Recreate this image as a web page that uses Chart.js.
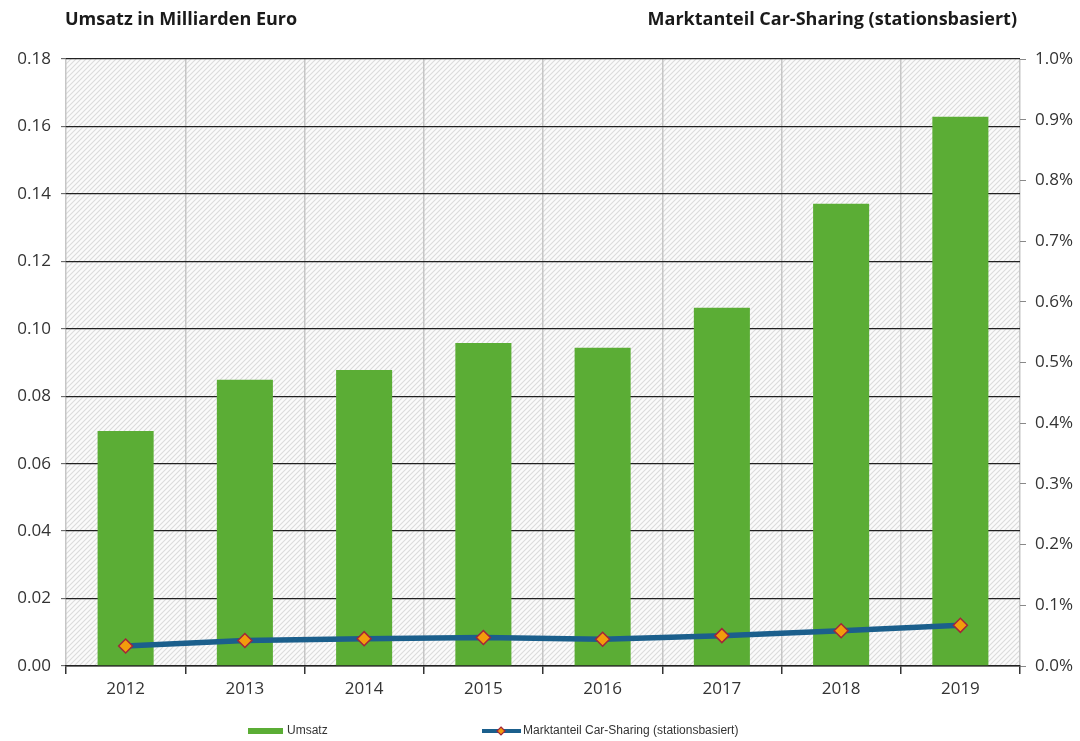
<!DOCTYPE html>
<html lang="de">
<head>
<meta charset="utf-8">
<title>Car-Sharing Umsatz und Marktanteil</title>
<script src="https://cdn.jsdelivr.net/npm/chart.js@4/dist/chart.umd.min.js"></script>
<style>
  html, body { margin: 0; padding: 0; background: #fff; }
  #wrap { width: 1080px; height: 741px; }
</style>
</head>
<body>
<div id="wrap"><canvas id="chart" width="1080" height="741"></canvas></div>
<script>
// Jahre, Umsatz (Mrd. Euro) und Marktanteil (in Prozent)
const years = ['2012', '2013', '2014', '2015', '2016', '2017', '2018', '2019'];
const umsatz = [0.0697, 0.0849, 0.0878, 0.0958, 0.0944, 0.1062, 0.1371, 0.1629];
const marktanteil = [0.033, 0.042, 0.045, 0.047, 0.044, 0.050, 0.058, 0.067];

const leftTitle = 'Umsatz in Milliarden Euro';
const rightTitle = 'Marktanteil Car-Sharing (stationsbasiert)';
const umsatzLabel = 'Umsatz';
const anteilLabel = 'Marktanteil Car-Sharing (stationsbasiert)';

const FONT = '"Open Sans", "Liberation Sans", sans-serif';
const GREEN = '#5bad35';
const BLUE = '#1b5f8c';
const ORANGE = '#f39c0c';
const MARKER_EDGE = '#a3253a';

// schraffierter Hintergrund der Zeichenfläche
function hatchPattern(ctx) {
  const s = 5;
  const c = document.createElement('canvas');
  c.width = s; c.height = s;
  const g = c.getContext('2d');
  g.fillStyle = '#fbfbfb';
  g.fillRect(0, 0, s, s);
  g.strokeStyle = '#dcdcdc';
  g.lineWidth = 1.1;
  g.beginPath();
  g.moveTo(-1, s + 1); g.lineTo(s + 1, -1);
  g.moveTo(-1, 1); g.lineTo(1, -1);
  g.moveTo(s - 1, s + 1); g.lineTo(s + 1, s - 1);
  g.stroke();
  return ctx.createPattern(c, 'repeat');
}

const plotBackground = {
  id: 'plotBackground',
  beforeDraw(chart) {
    const { ctx, chartArea: a } = chart;
    ctx.save();
    ctx.fillStyle = hatchPattern(ctx);
    ctx.fillRect(a.left, a.top, a.right - a.left, a.bottom - a.top);
    ctx.restore();
  }
};

const headers = {
  id: 'headers',
  afterDraw(chart) {
    const { ctx, chartArea: a } = chart;
    ctx.save();
    ctx.font = 'bold 18px ' + FONT;
    ctx.fillStyle = '#1a1a1a';
    ctx.textBaseline = 'middle';
    ctx.textAlign = 'left';
    ctx.fillText(leftTitle, a.left - 1, 20);
    ctx.textAlign = 'right';
    ctx.fillText(rightTitle, a.right - 3, 20);
    ctx.restore();
  }
};

// Legende unten: Balken als flaches Rechteck, Linie mit Raute
const bottomLegend = {
  id: 'bottomLegend',
  afterDraw(chart) {
    const { ctx } = chart;
    const y = 731;
    ctx.save();
    ctx.font = '12px "Liberation Sans", sans-serif';
    ctx.textBaseline = 'middle';
    ctx.textAlign = 'left';

    ctx.fillStyle = GREEN;
    ctx.fillRect(248, y - 3, 35, 6);
    ctx.fillStyle = '#333';
    ctx.fillText(umsatzLabel, 287, y);

    ctx.strokeStyle = BLUE;
    ctx.lineWidth = 4;
    ctx.beginPath();
    ctx.moveTo(482, y); ctx.lineTo(521, y);
    ctx.stroke();
    ctx.fillStyle = ORANGE;
    ctx.strokeStyle = MARKER_EDGE;
    ctx.lineWidth = 1.2;
    ctx.beginPath();
    ctx.moveTo(501, y - 4); ctx.lineTo(505, y); ctx.lineTo(501, y + 4); ctx.lineTo(497, y);
    ctx.closePath();
    ctx.fill(); ctx.stroke();
    ctx.fillStyle = '#333';
    ctx.fillText(anteilLabel, 523, y);
    ctx.restore();
  }
};

const tickFont = { family: FONT, size: 17 };

new Chart(document.getElementById('chart'), {
  data: {
    labels: years,
    datasets: [
      {
        type: 'line',
        label: anteilLabel,
        data: marktanteil,
        yAxisID: 'y1',
        order: 1,
        borderColor: BLUE,
        borderWidth: 5.5,
        tension: 0,
        pointStyle: 'rectRot',
        pointRadius: 7,
        pointBackgroundColor: ORANGE,
        pointBorderColor: MARKER_EDGE,
        pointBorderWidth: 1.5
      },
      {
        type: 'bar',
        label: umsatzLabel,
        data: umsatz,
        yAxisID: 'y',
        order: 2,
        backgroundColor: GREEN,
        categoryPercentage: 1,
        barPercentage: 0.47
      }
    ]
  },
  options: {
    responsive: false,
    animation: false,
    layout: { padding: { top: 59, bottom: 35, left: 0, right: 0 } },
    plugins: {
      legend: { display: false },
      tooltip: { enabled: false }
    },
    scales: {
      x: {
        offset: true,
        grid: { offset: true, color: '#c6c6c6', lineWidth: 1.5, tickColor: '#333', tickLength: 8, tickWidth: 1.5 },
        border: { color: '#222', width: 1.5 },
        ticks: { color: '#333', font: tickFont, padding: 5 },
        afterFit(scale) { scale.height = 40; }
      },
      y: {
        position: 'left',
        min: 0,
        max: 0.18,
        grid: { color: '#222', lineWidth: 1.3, tickColor: '#555', tickLength: 5, tickWidth: 1 },
        border: { display: false },
        ticks: {
          stepSize: 0.02,
          color: '#333',
          font: tickFont,
          padding: 10,
          callback: v => v.toFixed(2)
        },
        afterFit(scale) { scale.width = 66; }
      },
      y1: {
        position: 'right',
        min: 0,
        max: 1.0,
        grid: { drawOnChartArea: false, tickColor: '#888', tickLength: 6, tickWidth: 1 },
        border: { display: false },
        ticks: {
          stepSize: 0.1,
          color: '#333',
          font: tickFont,
          padding: 9,
          callback: v => v.toFixed(1) + '%'
        },
        afterFit(scale) { scale.width = 60; }
      }
    }
  },
  plugins: [plotBackground, headers, bottomLegend]
});
</script>
</body>
</html>
